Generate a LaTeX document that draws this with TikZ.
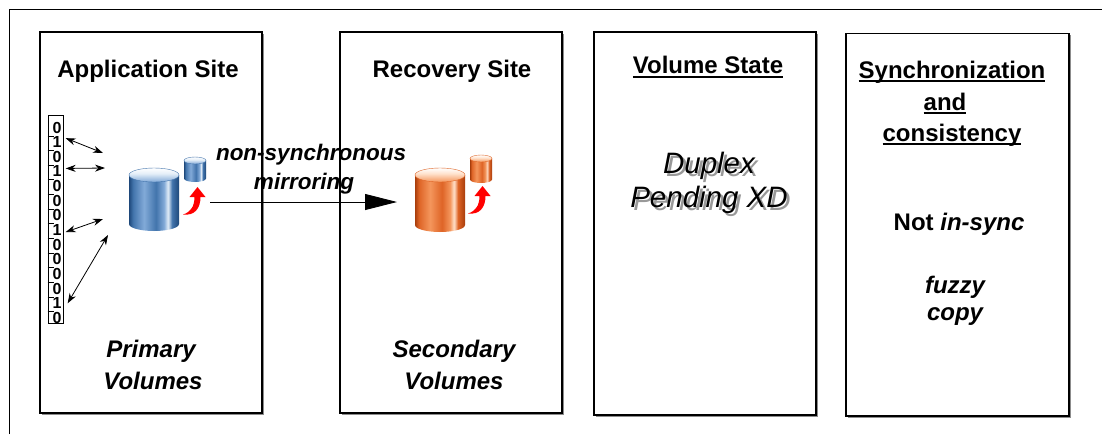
\documentclass[tikz,border=0pt]{standalone}
\usepackage{fontspec}
\setmainfont{Liberation Sans}
\usetikzlibrary{arrows.meta,calc,shadows}

% cylinder colours
\definecolor{bdk}{RGB}{30,72,122}
\definecolor{bmd}{RGB}{66,116,172}
\definecolor{blt}{RGB}{130,170,216}
\definecolor{bhl}{RGB}{228,238,248}
\definecolor{odk}{RGB}{168,62,12}
\definecolor{omd}{RGB}{222,100,38}
\definecolor{olt}{RGB}{244,150,92}
\definecolor{ohl}{RGB}{255,226,204}

\pgfdeclarehorizontalshading{bluebody}{100bp}{color(0bp)=(bdk); color(25bp)=(bdk); color(29bp)=(bmd); color(40bp)=(blt); color(52bp)=(bmd); color(60bp)=(blt); color(64bp)=(bhl); color(68bp)=(bmd); color(75bp)=(bdk); color(100bp)=(bdk)}
\pgfdeclareverticalshading{bluetop}{100bp}{color(0bp)=(blt); color(25bp)=(blt); color(55bp)=(bhl); color(75bp)=(white); color(100bp)=(white)}
\pgfdeclarehorizontalshading{orangebody}{100bp}{color(0bp)=(odk); color(25bp)=(odk); color(29bp)=(omd); color(40bp)=(olt); color(52bp)=(omd); color(60bp)=(olt); color(64bp)=(ohl); color(68bp)=(omd); color(75bp)=(odk); color(100bp)=(odk)}
\pgfdeclareverticalshading{orangetop}{100bp}{color(0bp)=(olt); color(25bp)=(olt); color(55bp)=(ohl); color(75bp)=(white); color(100bp)=(white)}

% underline at a fixed depth below the baseline
\newcommand\uline[1]{\setbox0\hbox{#1}\rlap{\vrule height -2.2pt depth 4.4pt width \wd0}\box0}

% cylinder: centre x, top ellipse y, bottom ellipse y, x radius, y radius, colour scheme, rim colour
\newcommand\drawcyl[7]{%
  \shade[shading=#6body] (#1-#4,#2) -- (#1-#4,#3) arc[start angle=180,end angle=0,x radius=#4,y radius=#5] -- (#1+#4,#2) -- cycle;
  \shade[shading=#6top,draw=#7,line width=0.4pt] (#1,#2) ellipse[x radius=#4,y radius=#5];
}

\begin{document}
\begin{tikzpicture}[x=1pt,y=-1pt,
  panel/.style={draw=black,line width=1.1pt,fill=white,inner sep=0pt,
    drop shadow={shadow xshift=1.6pt,shadow yshift=-1.6pt,fill=black!45,opacity=1}},
  head/.style={font=\fontsize{24}{24}\selectfont\bfseries,anchor=base,inner sep=0pt},
  headit/.style={font=\fontsize{24}{24}\selectfont\bfseries\itshape,anchor=base,inner sep=0pt},
  mirtext/.style={font=\fontsize{22.5}{22.5}\selectfont\bfseries\itshape,anchor=base,inner sep=0pt},
  statetext/.style={font=\fontsize{29.5}{29.5}\selectfont\itshape,anchor=base,inner sep=0pt},
  bit/.style={font=\fontsize{16}{16}\selectfont\bfseries,inner sep=0pt},
  dataarrow/.style={line width=0.8pt,{Stealth[length=10pt,width=7pt]}-{Stealth[length=10pt,width=7pt]}},
  uparrow/.style={fill=red}
]
\useasboundingbox (0,0) rectangle (1102,434);

% outer frame (top and left edges)
\draw[line width=1.2pt] (9.5,434) -- (9.5,9.5) -- (1102,9.5);

% the four panels
\node[panel,minimum width=222pt,minimum height=381pt] (app) at (151,222.5) {};
\node[panel,minimum width=222pt,minimum height=381pt] (rec) at (451,222.5) {};
\node[panel,minimum width=222pt,minimum height=383pt] (state) at (705,223.5) {};
\node[panel,minimum width=223pt,minimum height=382.5pt] (sync) at (957.5,224.75) {};

% panel headings
\node[head] (tApp) at (148,77.5) {Application Site};
\node[head] (tRec) at (452,77.5) {Recovery Site};
\node[head] (tVol) at (708,73.5) {\uline{Volume State}};
\node[head] (tSyn1) at (952,78) {\uline{Synchronization}};
\node[head] (tSyn2) at (945,110) {\uline{and}};
\node[head] (tSyn3) at (952,141) {\uline{consistency}};

% volume state with its drop shadow
\node[statetext,text=black!40] (tDupS) at (712,176) {Duplex};
\node[statetext,text=black!40] (tPendS) at (712,210) {Pending XD};
\node[statetext] (tDup) at (709,173) {Duplex};
\node[statetext] (tPend) at (709,207) {Pending XD};

% synchronization state
\node[head] (tNot) at (959,230) {Not \textit{in-sync}};
\node[headit] (tFuz) at (955,293) {fuzzy};
\node[headit] (tCopy) at (955,320) {copy};

% volume captions
\node[headit] (tPri) at (151,357) {Primary};
\node[headit] (tPriV) at (153,389) {Volumes};
\node[headit] (tSec) at (454,357) {Secondary};
\node[headit] (tSecV) at (454,389) {Volumes};

% bit stream
\node[draw,line width=0.9pt,minimum width=15pt,minimum height=208pt,inner sep=0pt] (bits) at (55.5,219) {};
\foreach \d [count=\i] in {0,1,0,1,0,0,0,1,0,0,0,0,1,0}
  \node[bit] (d\i) at (57,{127.5+(\i-1)*14.65}) {\d};
\foreach \i in {2,...,14}
  \draw[line width=0.8pt] ($(bits.west |- d\i.north)+(0,-0.5)$) -- ++(6,0);

% primary volumes
\drawcyl{154}{175}{224}{25}{7}{blue}{bmd}
\drawcyl{195}{160.5}{178.5}{11}{3.5}{blue}{bmd}
\fill[uparrow] (183,214.5) .. controls (195,216) and (200.5,208) .. (200.5,197) -- (205.5,197) -- (197.5,187) -- (189.5,197) -- (194.5,197) .. controls (194.5,206) and (191,212) .. (183,214.5) -- cycle;

% secondary volumes
\drawcyl{440}{175}{225}{25}{7}{orange}{omd}
\drawcyl{481}{158.5}{179.5}{11}{3.5}{orange}{omd}
\fill[uparrow] (468,213.5) .. controls (480,215) and (485.5,207) .. (485.5,196) -- (490.5,196) -- (482.5,186) -- (474.5,196) -- (479.5,196) .. controls (479.5,205) and (476,211) .. (468,213.5) -- cycle;

% host writes to the primary volumes
\coordinate (w1) at (103,153);
\coordinate (w2) at (105,168);
\coordinate (w3) at (103,219);
\coordinate (w4) at (108,235);
\draw[dataarrow] ($(d2.east)+(4,-4)$) -- (w1);
\draw[dataarrow] ($(d4.east)+(4,-3)$) -- (w2);
\draw[dataarrow] ($(d8.east)+(4,2)$) -- (w3);
\draw[dataarrow] ($(d13.east)+(6,0)$) -- (w4);

% mirroring connector
\coordinate (mirA) at (210,202);
\coordinate (mirB) at (397,202);
\draw[line width=0.9pt,-{Triangle[length=32pt,width=16pt]}] (mirA) -- (mirB);
\node[mirtext] (tMir1) at (311,160) {non-synchronous};
\node[mirtext] (tMir2) at (304,189) {mirroring};
\end{tikzpicture}
\end{document}
